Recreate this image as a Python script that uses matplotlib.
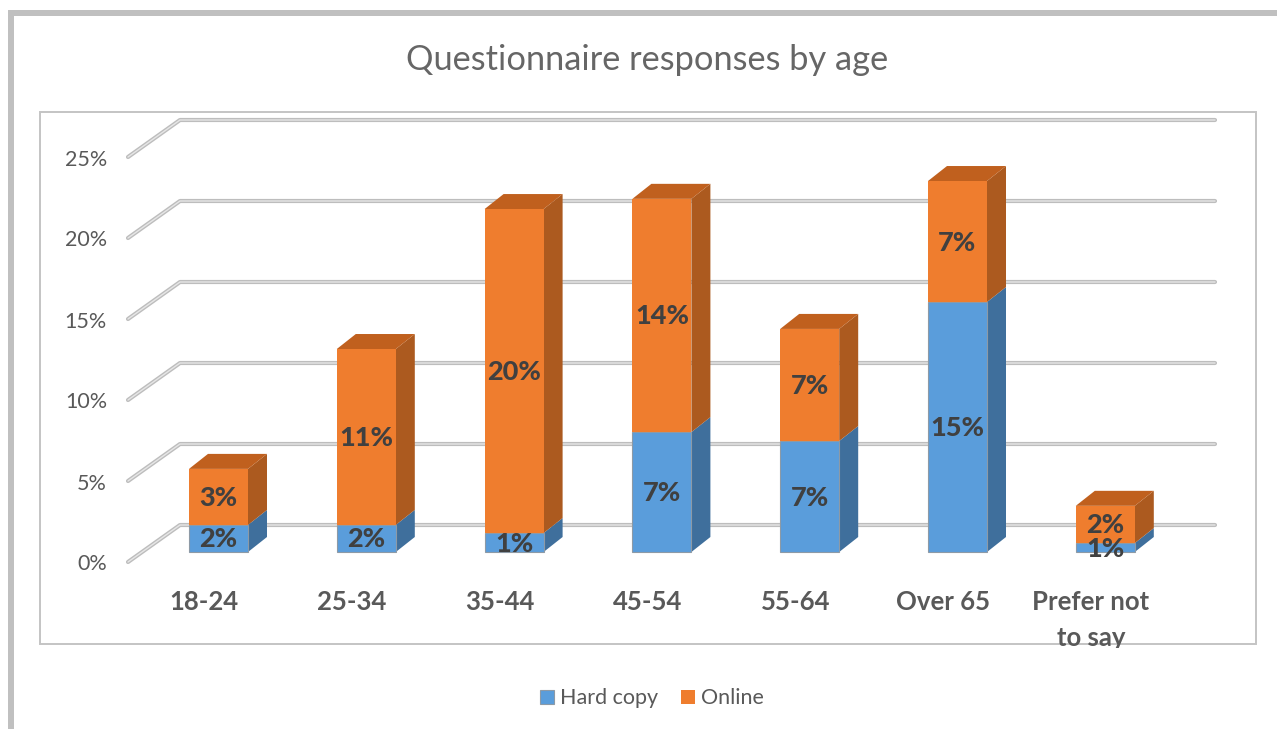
import matplotlib
matplotlib.use("Agg")
import matplotlib.pyplot as plt
from matplotlib.patches import Polygon, Rectangle
from matplotlib.transforms import Bbox

plt.rcParams['font.family'] = ['Lato', 'DejaVu Sans']

categories = ["18-24", "25-34", "35-44", "45-54", "55-64", "Over 65", "Prefer not\nto say"]
hard_copy = [1.67, 1.67, 1.17, 7.4, 6.85, 15.43, 0.55]
online = [3.46, 10.86, 20.0, 14.4, 6.92, 7.47, 2.3]
hard_copy_labels = ["2%", "2%", "1%", "7%", "7%", "15%", "1%"]
online_labels = ["3%", "11%", "20%", "14%", "7%", "7%", "2%"]
y_ticks = [0, 5, 10, 15, 20, 25]

W, H = 1277, 729
# pixel layout of the fake 3d plot
X0, STEP = 218.5, 147.8
Y0, PX_PER_PCT = 552, 16.2
BAR_W = 59 / STEP
DX, DY = 19 / STEP, 15 / PX_PER_PCT
TEXT_SHIFT = 2.5 / PX_PER_PCT  # Lato sits a little high when centred
LABEL_SHIFT = 1 / PX_PER_PCT

BLUE, BLUE_SIDE = "#5a9ddb", "#3f6f9c"
ORANGE, ORANGE_SIDE, ORANGE_TOP = "#ef7d2e", "#ac5a1f", "#c0601e"
TEXT = "#595959"
LABEL = "#404040"


def px_x(px):
    return (px - X0) / STEP


def px_y(px):
    return (Y0 - px) / PX_PER_PCT


fig = plt.figure(figsize=(W / 100, H / 100), dpi=100)

# frame axes in plain pixels
bg = fig.add_axes([0, 0, 1, 1])
bg.set_xlim(0, W)
bg.set_ylim(H, 0)
bg.axis("off")
bg.add_patch(Rectangle((11, 13), W, H, fc="white", ec="#c0c0c0", lw=4.3))
bg.add_patch(Rectangle((40, 112), 1216, 532, fc="white", ec="#c4c4c4", lw=1.4))
bg.text(647.5, 60, "Questionnaire responses by age", ha="center", va="center",
        fontsize=24.75, color="#666666")

ax = fig.add_axes([0, 0, 1, 1])
ax.patch.set_alpha(0)
ax.set_xlim(px_x(0), px_x(W))
ax.set_ylim(px_y(H), px_y(0))
ax.axis("off")

# side wall and back wall gridlines
wall_y = (Y0 - 525) / PX_PER_PCT
floor_y = (Y0 - 562) / PX_PER_PCT
for tick in y_ticks:
    xs = [px_x(128), px_x(180), px_x(1215)]
    ys = [tick + floor_y, tick + wall_y, tick + wall_y]
    ax.plot(xs, ys, color="#bdbdbd", lw=3, solid_capstyle="round", zorder=1)
    ax.plot(xs, ys, color="#e6e6e6", lw=1, solid_capstyle="round", zorder=1.1)
    ax.text(px_x(107), tick + floor_y - TEXT_SHIFT, f"{tick}%", ha="right", va="center",
            fontsize=15.5, color=TEXT)

# stacked bars, depth faces are added by hand
x_pos = list(range(len(categories)))
for i in x_pos:
    right = i + BAR_W / 2
    left = i - BAR_W / 2
    total = hard_copy[i] + online[i]
    zo = 2 + i
    ax.add_patch(Polygon([(right, 0), (right + DX, DY), (right + DX, hard_copy[i] + DY), (right, hard_copy[i])],
                         fc=BLUE_SIDE, ec="none", zorder=zo))
    ax.add_patch(Polygon([(right, hard_copy[i]), (right + DX, hard_copy[i] + DY), (right + DX, total + DY), (right, total)],
                         fc=ORANGE_SIDE, ec="none", zorder=zo))
    ax.add_patch(Polygon([(left, total), (left + DX, total + DY), (right + DX, total + DY), (right, total)],
                         fc=ORANGE_TOP, ec="none", zorder=zo))

ax.bar(x_pos, hard_copy, width=BAR_W, color=BLUE, edgecolor="#8d9aa6", linewidth=0.8, zorder=10, label="Hard copy")
ax.bar(x_pos, online, width=BAR_W, bottom=hard_copy, color=ORANGE, edgecolor="none", zorder=10, label="Online")

for i in x_pos:
    ax.text(i, hard_copy[i] / 2 - LABEL_SHIFT, hard_copy_labels[i], ha="center", va="center",
            fontsize=19.5, fontweight="black", color=LABEL, zorder=20)
    ax.text(i, hard_copy[i] + online[i] / 2 - LABEL_SHIFT, online_labels[i], ha="center", va="center",
            fontsize=19.5, fontweight="black", color=LABEL, zorder=20)

# category labels sit a bit left of the bars, last one runs into the frame
clip = Bbox([[0, H - 648], [W, H]])
for i, name in zip(x_pos, categories):
    t = ax.text(i - 14.5 / STEP, px_y(590), name, ha="center", va="top", fontsize=18.5,
                fontweight="bold", color=TEXT, linespacing=1.6, zorder=20)
    t.set_clip_box(clip)
    t.set_clip_on(True)

ax.legend(loc="center", bbox_to_anchor=(652 / W, 1 - 698.5 / H), bbox_transform=fig.transFigure,
          ncol=2, frameon=False, fontsize=15.5, handlelength=0.65, handleheight=0.65,
          handletextpad=0.28, columnspacing=1.07, labelcolor=TEXT)

fig.savefig("out.png", dpi=100)
